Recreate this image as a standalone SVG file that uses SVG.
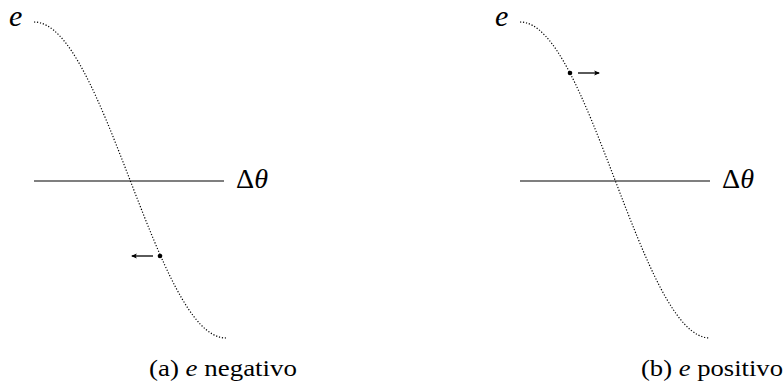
<svg xmlns="http://www.w3.org/2000/svg" width="784" height="388" viewBox="0 0 784 388">
<defs>
<style>
.curve{fill:none;stroke:#000;stroke-width:1.2;stroke-dasharray:1.2 1.8}
.axis{stroke:#000;stroke-width:1.2}
.arr{stroke:#000;stroke-width:1.3;marker-end:url(#ah)}
</style>
<marker id="ah" viewBox="0 0 10 10" refX="8" refY="5" markerWidth="6" markerHeight="6" markerUnits="userSpaceOnUse" orient="auto">
<path d="M0,1 L10,5 L0,9 L2,5 Z" fill="#000"/>
</marker>
</defs>
<g id="panel-a" font-family="'Liberation Serif', 'DejaVu Serif', serif" fill="#000">
<g id="axis-a"><line class="axis" x1="34" y1="181" x2="224" y2="181"/></g>
<g id="curve-a"><path class="curve" d="M34,22 C103.8,22 156.2,338 226,338"/></g>
<g id="label-e-a"><text x="9" y="26" font-size="30" font-style="italic">e</text></g>
<g id="label-dtheta-a"><text x="236" y="188" font-size="27" textLength="32" lengthAdjust="spacingAndGlyphs">Δ<tspan font-style="italic">θ</tspan></text></g>
<g id="point-a"><circle cx="160" cy="256" r="2.3"/></g>
<g id="caption-a"><text x="149" y="376" font-size="23" textLength="148" lengthAdjust="spacingAndGlyphs">(a) <tspan font-style="italic">e</tspan> negativo</text></g>
</g>
<g id="panel-b" font-family="'Liberation Serif', 'DejaVu Serif', serif" fill="#000">
<g id="axis-b"><line class="axis" x1="520" y1="181" x2="710" y2="181"/></g>
<g id="curve-b"><path class="curve" d="M520,22 C589,22 641,338 710,338"/></g>
<g id="label-e-b"><text x="495" y="26" font-size="30" font-style="italic">e</text></g>
<g id="label-dtheta-b"><text x="722" y="188" font-size="27" textLength="32" lengthAdjust="spacingAndGlyphs">Δ<tspan font-style="italic">θ</tspan></text></g>
<g id="point-b"><circle cx="570" cy="73" r="2.3"/></g>
<g id="caption-b"><text x="641" y="376" font-size="23" textLength="142" lengthAdjust="spacingAndGlyphs">(b) <tspan font-style="italic">e</tspan> positivo</text></g>
</g>
<g id="connectors">
<line class="arr" x1="153" y1="256" x2="132" y2="256"/>
<line class="arr" x1="578" y1="73" x2="599" y2="73"/>
</g>
</svg>
